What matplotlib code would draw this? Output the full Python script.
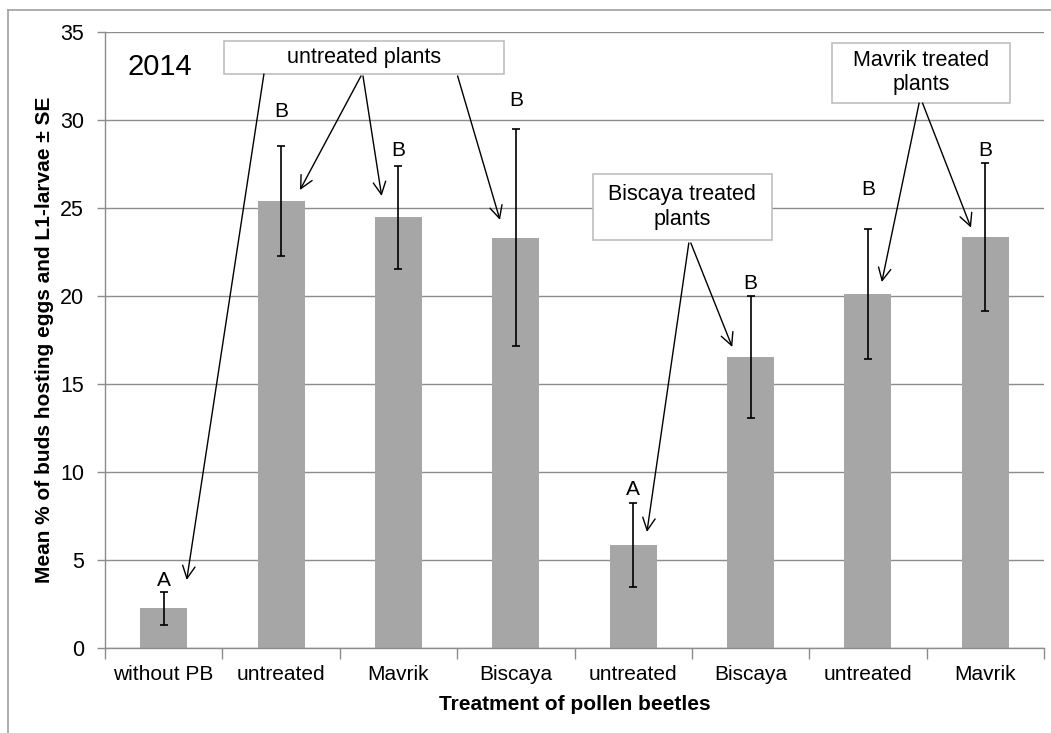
import matplotlib
matplotlib.use("Agg")
import matplotlib.pyplot as plt
import numpy as np
from matplotlib.lines import Line2D
from matplotlib.patches import Rectangle

plt.rcParams['font.family'] = ['Liberation Sans', 'DejaVu Sans']

# ---- data ----
categories = ["without PB", "untreated", "Mavrik", "Biscaya",
              "untreated", "Biscaya", "untreated", "Mavrik"]
means = [2.27, 25.41, 24.48, 23.34, 5.87, 16.54, 20.14, 23.37]
se = [0.92, 3.14, 2.95, 6.17, 2.38, 3.48, 3.70, 4.22]
letters = ["A", "B", "B", "B", "A", "B", "B", "B"]
letter_y = [3.88, 30.5, 28.27, 31.15, 9.05, 20.7, 26.08, 28.3]
yticks = [0, 5, 10, 15, 20, 25, 30, 35]
year_label = "2014"
ylabel = "Mean % of buds hosting eggs and L1-larvae \u00b1 SE"
xlabel = "Treatment of pollen beetles"

# annotation boxes: text, box (x0, x1, y0, y1) in data coords, arrow start, target bars
box_texts = ["untreated plants", "Biscaya treated\nplants", "Mavrik treated\nplants"]
box_extents = [(0.514, 2.899, 32.63, 34.52), (3.654, 5.18, 23.2, 26.95), (5.695, 7.211, 31.0, 34.41)]
arrow_targets = [[0, 1, 2, 3], [4, 5], [6, 7]]
arrow_starts = [[(0.854, 32.63), (1.681, 32.52), (1.698, 32.52), (2.504, 32.52)],
                [(4.474, 23.03), (4.491, 23.03)],
                [(6.436, 30.98), (6.465, 30.98)]]
# tip offsets relative to (bar index, bar mean)
tip_dx = [0.196, 0.161, -0.143, -0.135, 0.117, -0.156, 0.118, -0.122]
tip_dy = [1.61, 0.63, 1.22, 1.00, 0.74, 0.58, 0.67, 0.53]

bar_color = "#a6a6a6"
grid_color = "#8c8c8c"

fig = plt.figure(figsize=(10.51, 7.33), dpi=100)
ax = fig.add_axes([105/1051, 1 - 648.3/733, (1044-105)/1051, (648.3-32.3)/733])

x = np.arange(len(categories))
ax.bar(x, means, width=0.4, color=bar_color, zorder=2)
ax.errorbar(x, means, yerr=se, fmt='none', ecolor='black', elinewidth=1.2,
            capsize=3, capthick=1.2, zorder=3)

for xi, lt, ly in zip(x, letters, letter_y):
    ax.text(xi, ly, lt, ha='center', va='center', fontsize=15, zorder=4)

ax.set_xlim(-0.5, len(categories) - 0.5)
ax.set_ylim(0, 35)
ax.set_yticks(yticks)
ax.set_yticklabels([str(v) for v in yticks], fontsize=15.5)
ax.yaxis.grid(True, color=grid_color, lw=1.0, zorder=0)
ax.set_axisbelow(True)

ax.set_xticks(x)
ax.set_xticklabels(categories, fontsize=15)
ax.set_xticks(np.arange(-0.5, len(categories)), minor=True)
ax.tick_params(axis='x', which='major', length=0, pad=12)
ax.tick_params(axis='x', which='minor', length=8, color=grid_color, width=1)
ax.tick_params(axis='y', length=6, color=grid_color, width=1, pad=9)

for s in ['top', 'right']:
    ax.spines[s].set_visible(False)
for s in ['left', 'bottom']:
    ax.spines[s].set_color(grid_color)
    ax.spines[s].set_linewidth(1.0)

ax.set_ylabel(ylabel, fontsize=15, fontweight='bold')
ax.yaxis.set_label_coords(-0.054, 0.5)
ax.set_xlabel(xlabel, fontsize=15, fontweight='bold', labelpad=8)

ax.text(-0.031, 33.05, year_label, ha='center', va='center', fontsize=21, zorder=5)

# annotation boxes and arrows
for txt, (bx0, bx1, by0, by1), targets, starts in zip(box_texts, box_extents, arrow_targets, arrow_starts):
    ax.add_patch(Rectangle((bx0, by0), bx1 - bx0, by1 - by0, facecolor='white',
                           edgecolor='#bfbfbf', lw=1.2, zorder=6))
    ax.text((bx0 + bx1) / 2, (by0 + by1) / 2, txt, ha='center', va='center',
            fontsize=15.5, linespacing=1.2, zorder=7)
    for ti, (sx, sy) in zip(targets, starts):
        ax.annotate('', xy=(ti + tip_dx[ti], means[ti] + tip_dy[ti]), xytext=(sx, sy),
                    arrowprops=dict(arrowstyle='->,head_length=0.6,head_width=0.3',
                                    mutation_scale=15, lw=1.0, color='black',
                                    shrinkA=0, shrinkB=0),
                    zorder=8, annotation_clip=False)

# outer frame (left and top edges visible)
fig.add_artist(Line2D([8/1051, 8/1051], [0, 1 - 10/733], transform=fig.transFigure,
                      color='#a0a0a0', lw=1.2))
fig.add_artist(Line2D([8/1051, 1], [1 - 10/733, 1 - 10/733], transform=fig.transFigure,
                      color='#a0a0a0', lw=1.2))

fig.savefig("out.png", dpi=100)
